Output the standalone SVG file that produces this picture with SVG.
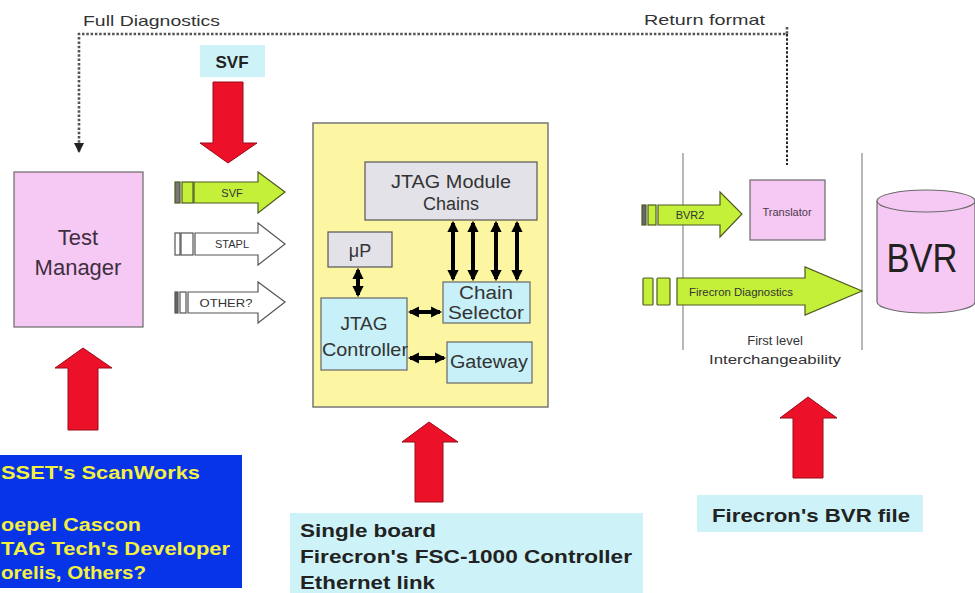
<svg xmlns="http://www.w3.org/2000/svg" width="975" height="593" viewBox="0 0 975 593">
<defs>
<style>
text{font-family:"Liberation Sans",Arial,sans-serif}
.red{fill:#ec1028;stroke:#9a0a18;stroke-width:1}
.grn{fill:#c4f03a;stroke:#4e5a20;stroke-width:1.2}
.wht{fill:#fff;stroke:#555;stroke-width:1.2}
.dot{fill:none;stroke:#555;stroke-width:2.6;stroke-dasharray:2.5 1.8}
.pink{fill:#f6c8f4;stroke:#6a6a6a;stroke-width:1.2}
.cyan{fill:#c8f0f8;stroke:#666;stroke-width:1.2}
.grey{fill:#e2e2e8;stroke:#555;stroke-width:1.2}
.lbl{font-size:11px;fill:#333}
.bl{stroke:#000;stroke-width:4;fill:none}
.thin{stroke:#888;stroke-width:1.2}
</style>
<marker id="ah" viewBox="0 0 10 10" refX="8" refY="5" markerWidth="2.8" markerHeight="2.8" orient="auto-start-reverse"><path d="M0,0L10,5L0,10z" fill="#000"/></marker>
<marker id="dh" viewBox="0 0 10 10" refX="9" refY="5" markerWidth="4" markerHeight="4" orient="auto"><path d="M0,0L10,5L0,10z" fill="#222"/></marker>
</defs>
<rect width="975" height="593" fill="#fff"/>

<g id="labels-top">
<text x="83" y="26" font-size="15" fill="#333" textLength="137" lengthAdjust="spacingAndGlyphs">Full Diagnostics</text>
<text x="644" y="25" font-size="15" fill="#333" textLength="121" lengthAdjust="spacingAndGlyphs">Return format</text>
</g>

<g id="svf-label">
<rect x="200" y="45" width="65" height="32" fill="#cdf3f8"/>
<text x="232" y="68" font-size="17" font-weight="bold" fill="#222" text-anchor="middle">SVF</text>
</g>

<g id="red-arrows">
<path class="red" d="M213,82H243V143H257L228,163L200,143H213Z"/>
<path class="red" d="M68,430V368H55L83,348L112,368H98V430Z"/>
<path class="red" d="M415,502V442H402L429,422L458,442H443V502Z"/>
<path class="red" d="M793,478V418H780L808,397L837,418H823V478Z"/>
</g>

<g id="test-manager">
<rect class="pink" x="14" y="172" width="129" height="155"/>
<text x="78" y="245" font-size="22" fill="#3e2e3e" text-anchor="middle">Test</text>
<text x="78" y="275" font-size="22" fill="#3e2e3e" text-anchor="middle">Manager</text>
</g>

<g id="svf-arrow">
<rect class="grn" x="175" y="182" width="5" height="21" style="fill:#777"/>
<rect class="grn" x="182" y="182" width="11" height="21"/>
<path class="grn" d="M194,182H258V172L285,192L258,213V203H194Z"/>
<text x="232" y="197" class="lbl" text-anchor="middle" fill="#555">SVF</text>
</g>
<g id="stapl-arrow">
<rect class="wht" x="175" y="233" width="5" height="22"/>
<rect class="wht" x="181" y="233" width="12" height="22"/>
<path class="wht" d="M195,233H258V223L285,244L258,265V255H195Z"/>
<text x="232" y="248" class="lbl" text-anchor="middle">STAPL</text>
</g>
<g id="other-arrow">
<rect class="wht" x="175" y="292" width="3" height="21" style="fill:#666"/>
<rect class="wht" x="180" y="292" width="6" height="21"/>
<path class="wht" d="M188,292H258V282L285,302L258,323V313H188Z"/>
<text x="226" y="307" class="lbl" text-anchor="middle" textLength="53" lengthAdjust="spacingAndGlyphs">OTHER?</text>
</g>

<g id="controller-board">
<rect x="313" y="123" width="235" height="284" fill="#fcf6a2" stroke="#777" stroke-width="1.5"/>
</g>
<g id="jtag-module-chains">
<rect class="grey" x="365" y="162" width="172" height="58"/>
<text x="451" y="188" font-size="18" fill="#333" text-anchor="middle" textLength="120" lengthAdjust="spacingAndGlyphs">JTAG Module</text>
<text x="451" y="210" font-size="18" fill="#333" text-anchor="middle">Chains</text>
</g>
<g id="up">
<rect class="grey" x="328" y="232" width="64" height="35"/>
<text x="360" y="257" font-size="18" fill="#333" text-anchor="middle">μP</text>
</g>
<g id="jtag-controller">
<rect class="cyan" x="321" y="298" width="86" height="72"/>
<text x="364" y="330" font-size="19" fill="#333" text-anchor="middle">JTAG</text>
<text x="365" y="356" font-size="19" fill="#333" text-anchor="middle" textLength="86" lengthAdjust="spacingAndGlyphs">Controller</text>
</g>
<g id="chain-selector">
<rect class="cyan" x="443" y="282" width="87" height="41"/>
<text x="486" y="299" font-size="18" fill="#333" text-anchor="middle" textLength="54" lengthAdjust="spacingAndGlyphs">Chain</text>
<text x="486" y="319" font-size="18" fill="#333" text-anchor="middle" textLength="76" lengthAdjust="spacingAndGlyphs">Selector</text>
</g>
<g id="gateway">
<rect class="cyan" x="447" y="342" width="85" height="41"/>
<text x="489" y="368" font-size="18" fill="#333" text-anchor="middle" textLength="78" lengthAdjust="spacingAndGlyphs">Gateway</text>
</g>

<g id="tools-box">
<rect x="0" y="455" width="242" height="133" fill="#0834e8"/>
<g font-size="18" font-weight="bold" fill="#f4f040">
<text x="1" y="479" textLength="199" lengthAdjust="spacingAndGlyphs">SSET's ScanWorks</text>
<text x="1" y="531" textLength="140" lengthAdjust="spacingAndGlyphs">oepel Cascon</text>
<text x="1" y="555" textLength="229" lengthAdjust="spacingAndGlyphs">TAG Tech's Developer</text>
<text x="1" y="579" textLength="145" lengthAdjust="spacingAndGlyphs">orelis, Others?</text>
</g>
</g>

<g id="board-box">
<rect x="290" y="513" width="353" height="80" fill="#cdf3f8"/>
<g font-size="19" font-weight="bold" fill="#222">
<text x="300" y="537" textLength="136" lengthAdjust="spacingAndGlyphs">Single board</text>
<text x="300" y="563" textLength="332" lengthAdjust="spacingAndGlyphs">Firecron's FSC-1000 Controller</text>
<text x="300" y="589" textLength="135" lengthAdjust="spacingAndGlyphs">Ethernet link</text>
</g>
</g>

<g id="interchange-zone">
<line class="thin" x1="683" y1="153" x2="683" y2="350"/>
<line class="thin" x1="862" y1="153" x2="862" y2="350"/>
<text x="775" y="345" font-size="13" fill="#333" text-anchor="middle">First level</text>
<text x="775" y="364" font-size="13" fill="#333" text-anchor="middle" textLength="132" lengthAdjust="spacingAndGlyphs">Interchangeability</text>
</g>

<g id="bvr2-arrow">
<rect class="grn" x="642" y="205" width="4" height="20" style="fill:#666"/>
<rect class="grn" x="648" y="205" width="8" height="20"/>
<path class="grn" d="M658,205H720V192L742,214L720,237V225H658Z"/>
<text x="690" y="219" class="lbl" text-anchor="middle">BVR2</text>
</g>
<g id="translator">
<rect class="pink" x="750" y="180" width="75" height="60"/>
<text x="787" y="216" font-size="11" fill="#4a3a4a" text-anchor="middle">Translator</text>
</g>
<g id="diag-arrow">
<rect class="grn" x="643" y="278" width="10" height="27" rx="1"/>
<rect class="grn" x="657" y="278" width="13" height="27" rx="1"/>
<path class="grn" d="M677,278H805V267L862,291L805,315V305H677Z"/>
<text x="741" y="296" class="lbl" text-anchor="middle" textLength="104" lengthAdjust="spacingAndGlyphs">Firecron Diagnostics</text>
</g>

<g id="bvr">
<path d="M877,201V302A49,11 0 0 0 975,302V201" fill="#f6c8f4" stroke="#6a6a6a" stroke-width="1.2"/>
<ellipse cx="926" cy="201" rx="49" ry="11" fill="#f6c8f4" stroke="#6a6a6a" stroke-width="1.2"/>
<text x="922" y="272" font-size="40" fill="#222" text-anchor="middle" textLength="71" lengthAdjust="spacingAndGlyphs">BVR</text>
</g>

<g id="bvr-file">
<rect x="697" y="495" width="226" height="37" fill="#cdf3f8"/>
<text x="712" y="522" font-size="19" font-weight="bold" fill="#222" textLength="198" lengthAdjust="spacingAndGlyphs">Firecron's BVR file</text>
</g>

<g id="connectors">
<polyline class="dot" points="787,27 787,34 79,34 79,152" marker-end="url(#dh)"/>
<line class="dot" x1="787" y1="34" x2="787" y2="165" style="stroke:#222;stroke-width:2"/>
<line class="bl" x1="358" y1="270" x2="358" y2="295" marker-start="url(#ah)" marker-end="url(#ah)"/>
<line class="bl" x1="453" y1="223" x2="453" y2="279" marker-start="url(#ah)" marker-end="url(#ah)"/>
<line class="bl" x1="473" y1="223" x2="473" y2="279" marker-start="url(#ah)" marker-end="url(#ah)"/>
<line class="bl" x1="496" y1="223" x2="496" y2="279" marker-start="url(#ah)" marker-end="url(#ah)"/>
<line class="bl" x1="517" y1="223" x2="517" y2="279" marker-start="url(#ah)" marker-end="url(#ah)"/>
<line class="bl" x1="410" y1="312" x2="440" y2="312" marker-start="url(#ah)" marker-end="url(#ah)"/>
<line class="bl" x1="410" y1="358" x2="444" y2="358" marker-start="url(#ah)" marker-end="url(#ah)"/>
</g>
</svg>
